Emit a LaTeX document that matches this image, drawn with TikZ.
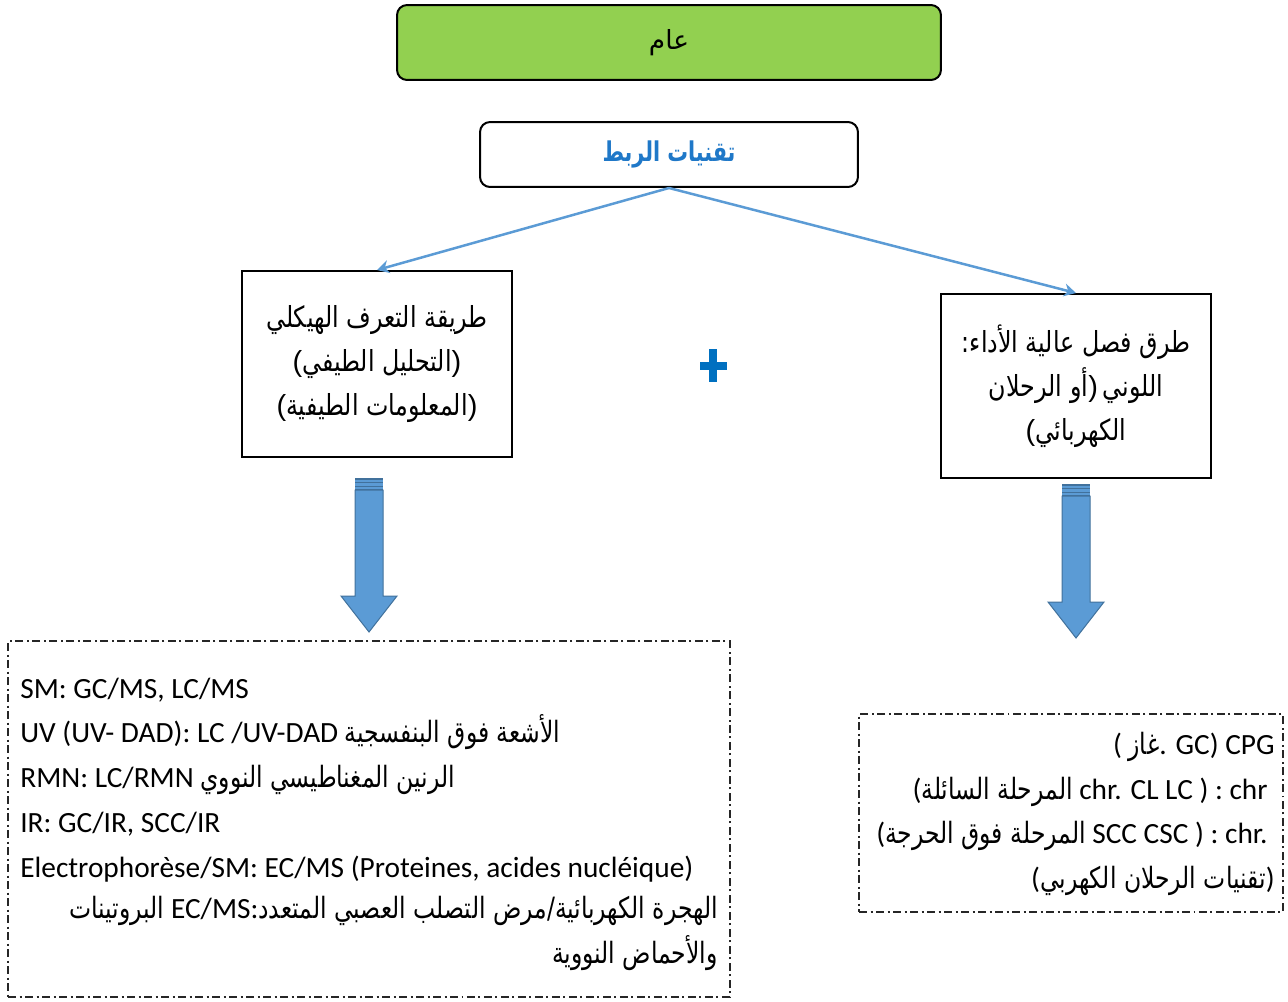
\documentclass[tikz,border=0pt]{standalone}
\usepackage{fontspec}
\usetikzlibrary{arrows.meta}
\TeXXeTstate=1
\newfontfamily\arabicfont[Script=Arabic,FakeStretch=0.8]{DejaVu Sans}
\newfontfamily\arabicbox[Script=Arabic,FakeStretch=0.82]{DejaVu Sans}
\newfontfamily\arabictitle[Script=Arabic,FakeStretch=0.76]{DejaVu Sans Bold}
\newfontfamily\arabicplain[Script=Arabic]{DejaVu Sans}
\newfontfamily\calib{Carlito}
\newfontfamily\arialf{Liberation Sans}
\newcommand\ar[1]{{\arabicfont\beginR #1\endR}}
\newcommand\arb[1]{{\arabicbox\beginR #1\endR}}
\definecolor{boxgreen}{HTML}{92D050}
\definecolor{linkblue}{HTML}{5B9BD5}
\definecolor{darkblue}{HTML}{41719C}
\definecolor{titleblue}{HTML}{1F78C8}
\definecolor{plusblue}{HTML}{0070C0}
\tikzset{
  greenbox/.style={draw=black, line width=0.04cm, fill=boxgreen, rounded corners=0.2cm, inner sep=0pt},
  whitebox/.style={draw=black, line width=0.04cm, fill=white, rounded corners=0.2cm, inner sep=0pt},
  plainbox/.style={draw=black, line width=0.04cm, inner sep=0pt, align=center,
     font=\arialf\fontsize{16.5}{25}\selectfont},
  dashbox/.style={draw=black!85, line width=0.025cm, inner sep=0pt,
     dash pattern=on 0.16cm off 0.07cm on 0.04cm off 0.07cm},
  txt/.style={inner sep=0pt, font=\calib\fontsize{16.7}{25}\selectfont},
  link/.style={draw=linkblue, line width=0.05cm, -{Stealth[length=0.24cm,width=0.26cm]}},
  bigarrow/.pic={
    \filldraw[fill=linkblue, draw=darkblue, line width=0.02cm]
      (-14,12) -- (14,12) -- (14,118) -- (28,118) -- (0,154) -- (-28,118) -- (-14,118) -- cycle;
    \fill[linkblue] (-14,0) rectangle (14,12);
    \foreach \yy in {0.8,4.5,8.5,11.5}
      \draw[darkblue, line width=0.035cm] (-14,\yy) -- (14,\yy);
  }
}
\begin{document}
\begin{tikzpicture}[x=0.02cm, y=-0.02cm]
\useasboundingbox (0,0) rectangle (1288,1001);

\node[greenbox, minimum width=10.88cm, minimum height=1.5cm] (top) at (669,42.5)
  {\raisebox{-0.16cm}{\arabicplain\fontsize{15}{16}\selectfont\beginR عام\endR}};
\node[whitebox, minimum width=7.56cm, minimum height=1.3cm] (link) at (669,154.5)
  {\color{titleblue}\arabictitle\fontsize{15.5}{16}\selectfont\beginR تقنيات الربط\endR};

\node[plainbox, minimum width=5.4cm, minimum height=3.72cm] (left) at (377,364)
  {\arb{طريقة التعرف الهيكلي}\\(\arb{التحليل الطيفي})\\(\arb{المعلومات الطيفية})};
\node[plainbox, minimum width=5.4cm, minimum height=3.68cm] (right) at (1076,386)
  {\arb{طرق فصل عالية الأداء:}\\\arb{الرحلان} \arb{أو})\,\arb{اللوني}\\(\arb{الكهربائي}};

\draw[link] (link.south) -- (left.north);
\draw[link] (link.south) -- (right.north);

\fill[plusblue] (709,349) rectangle (717,382);
\fill[plusblue] (700,362) rectangle (727,370);

\pic at (369,478) {bigarrow};
\pic at (1076,484) {bigarrow};

\node[dashbox, minimum width=14.44cm, minimum height=7.12cm] (leftlist) at (369,819) {};
\node[dashbox, minimum width=8.48cm, minimum height=3.96cm] (rightlist) at (1071,813) {};

\node[txt, anchor=base west] (d1) at (20,698) {SM: GC/MS, LC/MS};
\node[txt, anchor=base west] (d2) at (20,742) {UV (UV- DAD): LC /UV-DAD \ar{الأشعة فوق البنفسجية}};
\node[txt, anchor=base west] (d3) at (20,787) {RMN: LC/RMN \ar{الرنين المغناطيسي النووي}};
\node[txt, anchor=base west] (d4) at (20,832) {IR: GC/IR, SCC/IR};
\node[txt, anchor=base west] (d5) at (20,877) {Electrophorèse/SM: EC/MS (Proteines, acides nucléique)};
\node[txt, anchor=base east] (d6) at (718,918) {\ar{البروتينات} EC/MS:\ar{الهجرة الكهربائية/مرض التصلب العصبي المتعدد}};
\node[txt, anchor=base east] (d7) at (718,963) {\ar{والأحماض النووية}};

\node[txt, anchor=base east] (r1) at (1275,754) {( \ar{غاز}. GC) CPG};
\node[txt, anchor=base east] (r2) at (1268,799) {(\ar{المرحلة السائلة} chr. CL LC ) : chr};
\node[txt, anchor=base east] (r3) at (1268,843) {(\ar{المرحلة فوق الحرجة} SCC CSC ) : chr.};
\node[txt, anchor=base east] (r4) at (1275,888) {(\ar{تقنيات الرحلان الكهربي})};
\end{tikzpicture}
\end{document}
